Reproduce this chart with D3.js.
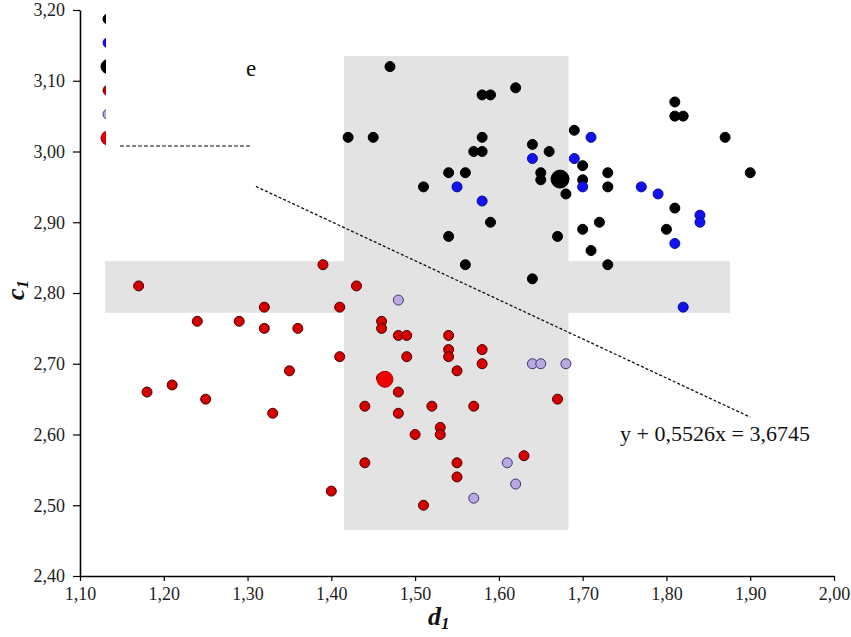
<!DOCTYPE html>
<html>
<head>
<meta charset="utf-8">
<script src="https://cdn.jsdelivr.net/npm/d3@7"></script>
<style>
  body { margin: 0; background: #fff; }
  text { font-family: "Liberation Serif", "DejaVu Serif", serif; }
</style>
</head>
<body>
<div id="chart"></div>
<script>
// cluster 1 (black)
const blackX = [1.47, 1.58, 1.59, 1.62, 1.42, 1.45, 1.58, 1.57, 1.58, 1.69, 1.64, 1.66, 1.54, 1.56, 1.51, 1.65, 1.65, 1.68, 1.59,
    1.54, 1.67, 1.56, 1.64, 1.81, 1.81, 1.82, 1.87, 1.70, 1.70, 1.73, 1.73, 1.90, 1.81, 1.72, 1.70, 1.80, 1.71, 1.73];
const blackY = [3.12, 3.08, 3.08, 3.09, 3.02, 3.02, 3.02, 3.00, 3.00, 3.03, 3.01, 3.00, 2.97, 2.97, 2.95, 2.97, 2.96, 2.94, 2.90,
    2.88, 2.88, 2.84, 2.82, 3.07, 3.05, 3.05, 3.02, 2.98, 2.96, 2.97, 2.95, 2.97, 2.92, 2.90, 2.89, 2.89, 2.86, 2.84];
// cluster 1, second group (blue)
const blueX = [1.55, 1.58, 1.64, 1.69, 1.70, 1.71, 1.77, 1.79, 1.84, 1.84, 1.81, 1.82];
const blueY = [2.95, 2.93, 2.99, 2.99, 2.95, 3.02, 2.95, 2.94, 2.91, 2.90, 2.87, 2.78];
// cluster 2 (red)
const redX = [1.17, 1.39, 1.32, 1.41, 1.24, 1.29, 1.32, 1.36, 1.41, 1.35, 1.21, 1.18, 1.25, 1.33, 1.43, 1.46, 1.46, 1.48, 1.49,
    1.54, 1.54, 1.54, 1.58, 1.58, 1.49, 1.55, 1.46, 1.48, 1.67, 1.44, 1.52, 1.57, 1.48, 1.53, 1.53, 1.50, 1.63, 1.44, 1.55,
    1.55, 1.51, 1.40];
const redY = [2.81, 2.84, 2.78, 2.78, 2.76, 2.76, 2.75, 2.75, 2.71, 2.69, 2.67, 2.66, 2.65, 2.63, 2.81, 2.76, 2.75, 2.74, 2.74,
    2.74, 2.72, 2.71, 2.72, 2.70, 2.71, 2.69, 2.68, 2.66, 2.65, 2.64, 2.64, 2.64, 2.63, 2.61, 2.60, 2.60, 2.57, 2.56, 2.56,
    2.54, 2.50, 2.52];
// cluster 2, second group (lavender)
const lilacX = [1.48, 1.64, 1.65, 1.68, 1.61, 1.62, 1.57];
const lilacY = [2.79, 2.70, 2.70, 2.70, 2.56, 2.53, 2.51];
// cluster centres
const centreX = [1.673, 1.464];
const centreY = [2.961, 2.678];
// shaded bands: [x0, x1, y0, y1]
const bandV = [1.415, 1.683, 2.465, 3.135];
const bandH = [1.13, 1.876, 2.772, 2.845];
// regression line y + 0,5526x = 3,6745
const trendA = 3.6745, trendB = 0.5526;
const trendX = [1.31, 1.90];
const xTicks = [1.1, 1.2, 1.3, 1.4, 1.5, 1.6, 1.7, 1.8, 1.9, 2.0];
const yTicks = [2.4, 2.5, 2.6, 2.7, 2.8, 2.9, 3.0, 3.1, 3.2];

const W = 851, H = 637;
const svg = d3.select('#chart').append('svg').attr('width', W).attr('height', H);

const x = d3.scaleLinear().domain([1.1, 2.0]).range([80, 834]);
const y = d3.scaleLinear().domain([2.4, 3.2]).range([576, 10]);
const fmt = d => d3.format('.2f')(d).replace('.', ',');

// bands
[bandV, bandH].forEach(b => {
    svg.append('rect')
        .attr('x', x(b[0])).attr('y', y(b[3]))
        .attr('width', x(b[1]) - x(b[0])).attr('height', y(b[2]) - y(b[3]))
        .attr('fill', '#e3e3e3');
});

// legend (mostly hidden behind white box)
const legendItems = [
    { fill: '#000', stroke: '#000', r: 5 },
    { fill: '#1010ee', stroke: '#1010ee', r: 5 },
    { fill: '#000', stroke: '#000', r: 7 },
    { fill: '#c00000', stroke: '#600', r: 5 },
    { fill: '#b8a8e0', stroke: '#443366', r: 5 },
    { fill: '#e00000', stroke: '#900', r: 7 }
];
legendItems.forEach((d, i) => {
    svg.append('circle').attr('cx', 108).attr('cy', 19 + i * 23.8).attr('r', d.r)
        .attr('fill', d.fill).attr('stroke', d.stroke);
});
svg.append('rect').attr('x', 106).attr('y', 4).attr('width', 154).attr('height', 148).attr('fill', '#fff');
svg.append('text').attr('x', 246).attr('y', 76).attr('font-size', 23).attr('fill', '#111').text('e');
svg.append('line').attr('x1', 120).attr('x2', 252).attr('y1', 146).attr('y2', 146)
    .attr('stroke', '#111').attr('stroke-width', 1.2).attr('stroke-dasharray', '4,2');

// points
function dots(xs, ys, fill, stroke, r) {
    svg.append('g').selectAll('circle').data(xs.map((v, i) => [v, ys[i]])).join('circle')
        .attr('cx', d => x(d[0])).attr('cy', d => y(d[1])).attr('r', r)
        .attr('fill', fill).attr('stroke', stroke).attr('stroke-width', 1);
}
dots(blackX, blackY, '#000', '#000', 5);
dots(blueX, blueY, '#1212ee', '#0a0aa0', 5);
dots(redX, redY, '#d40000', '#4a0000', 5);
dots(lilacX, lilacY, '#b9a9e2', '#3f3566', 5);
dots([centreX[0]], [centreY[0]], '#000', '#000', 9);
dots([centreX[1]], [centreY[1]], '#ee0000', '#b00000', 8);

// trend line
svg.append('line')
    .attr('x1', x(trendX[0])).attr('y1', y(trendA - trendB * trendX[0]))
    .attr('x2', x(trendX[1])).attr('y2', y(trendA - trendB * trendX[1]))
    .attr('stroke', '#111').attr('stroke-width', 1.3).attr('stroke-dasharray', '3,2');
svg.append('text').attr('x', 620).attr('y', 441).attr('font-size', 20).attr('fill', '#111')
    .attr('textLength', 190).attr('lengthAdjust', 'spacingAndGlyphs')
    .text('y + 0,5526x = 3,6745');

// axes
const xAxis = svg.append('g').attr('transform', 'translate(0,576)')
    .call(d3.axisBottom(x).tickValues(xTicks).tickFormat(fmt).tickSize(5).tickSizeOuter(0).tickPadding(6));
const yAxis = svg.append('g').attr('transform', 'translate(80,0)')
    .call(d3.axisLeft(y).tickValues(yTicks).tickFormat(fmt).tickSize(7).tickSizeOuter(0).tickPadding(8));
[xAxis, yAxis].forEach(g => {
    g.select('.domain').attr('stroke', '#000').attr('stroke-width', 1.6);
    g.selectAll('.tick line').attr('stroke', '#000').attr('stroke-width', 1.2);
    g.selectAll('.tick text').attr('font-family', '"Liberation Serif", serif')
        .attr('font-size', 18).attr('fill', '#222');
});

// axis titles
const xt = svg.append('text').attr('x', 428).attr('y', 625).attr('font-size', 26)
    .attr('font-style', 'italic').attr('font-weight', 'bold').attr('fill', '#111');
xt.append('tspan').text('d');
xt.append('tspan').attr('font-size', 17).attr('dy', 4).text('1');
const yt = svg.append('text').attr('transform', 'translate(24,300) rotate(-90)').attr('font-size', 26)
    .attr('font-style', 'italic').attr('font-weight', 'bold').attr('fill', '#111');
yt.append('tspan').text('c');
yt.append('tspan').attr('font-size', 17).attr('dy', 4).text('1');
</script>
</body>
</html>
